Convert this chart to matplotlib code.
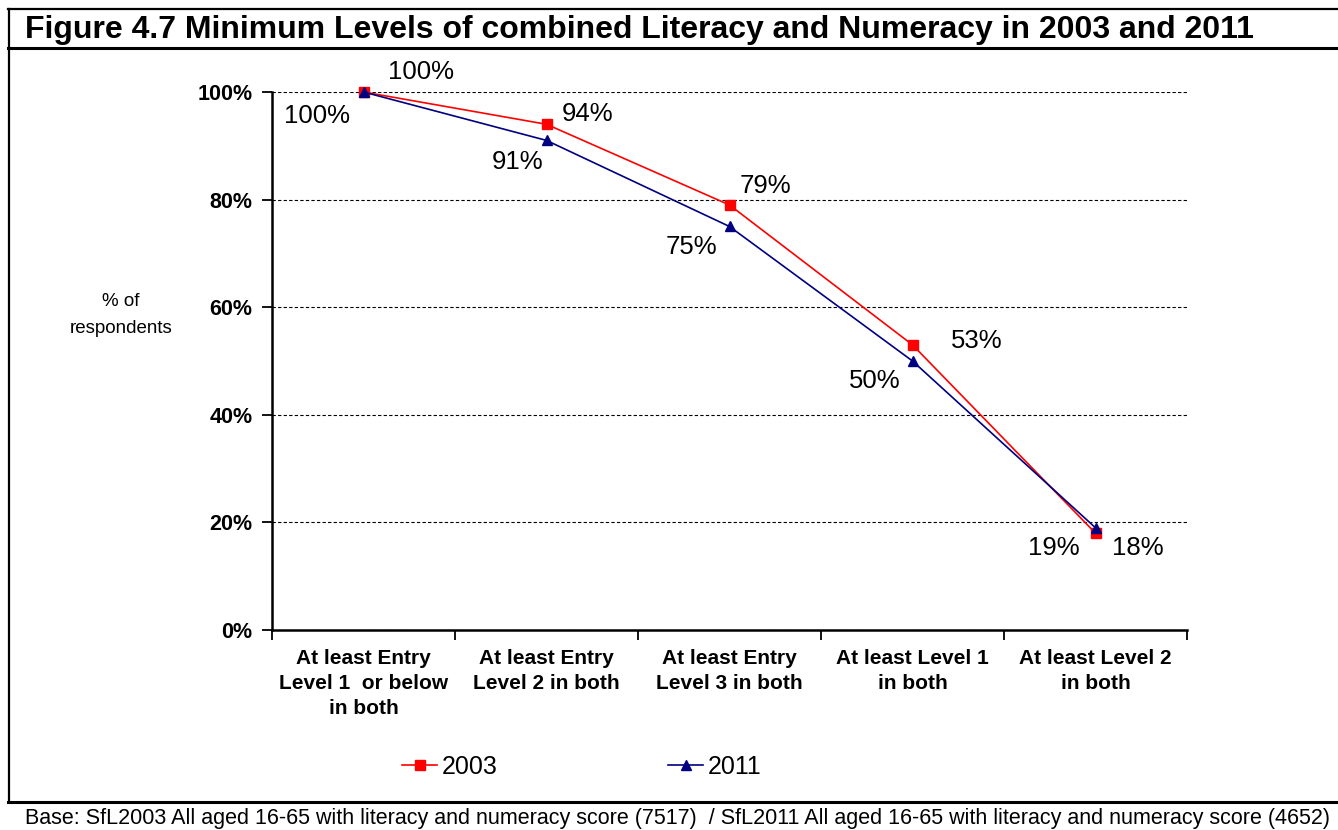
import matplotlib
matplotlib.use('Agg')
import matplotlib.pyplot as plt
from matplotlib.lines import Line2D

plt.rcParams['font.family'] = ['Liberation Sans', 'DejaVu Sans']

# ---------------- data ----------------
categories = [
    "At least Entry\nLevel 1  or below\nin both",
    "At least Entry\nLevel 2 in both",
    "At least Entry\nLevel 3 in both",
    "At least Level 1\nin both",
    "At least Level 2\nin both",
]
values_2003 = [100, 94, 79, 53, 18]
values_2011 = [100, 91, 75, 50, 19]
series_names = ["2003", "2011"]
y_ticks = [0, 20, 40, 60, 80, 100]
title = "Figure 4.7 Minimum Levels of combined Literacy and Numeracy in 2003 and 2011"
footer = ("Base: SfL2003 All aged 16-65 with literacy and numeracy score (7517)  / "
          "SfL2011 All aged 16-65 with literacy and numeracy score (4652)")
y_label = "% of\nrespondents"

# label offsets (pixels, +y = up) - layout only
off_2003 = [(58, 20), (41, 10), (36, 19), (64, 4), (42, -15)]
off_2011 = [(-46, -24), (-29, -22), (-38, -20), (-38, -20), (-42, -20)]

W, H = 1338, 830
fig = plt.figure(figsize=(W / 100, H / 100), dpi=100)
fig.patch.set_facecolor('white')

ax = fig.add_axes([272 / W, 1 - 630 / H, (1187 - 272) / W, (630 - 92) / H])
xs = list(range(len(categories)))
l1, = ax.plot(xs, values_2003, color='#FF0000', marker='s', ms=7.5, lw=1.2,
              clip_on=False, zorder=4, label=series_names[0])
l2, = ax.plot(xs, values_2011, color='#000080', marker='^', ms=7.5, lw=1.2,
              clip_on=False, zorder=5, label=series_names[1])

for i, v in enumerate(values_2003):
    ax.annotate(f"{v}%", (xs[i], v), xytext=off_2003[i], textcoords='offset pixels',
                ha='center', va='center', fontsize=18.5, color='black')
for i, v in enumerate(values_2011):
    ax.annotate(f"{v}%", (xs[i], v), xytext=off_2011[i], textcoords='offset pixels',
                ha='center', va='center', fontsize=18.5, color='black')

ax.set_xlim(-0.5, len(categories) - 0.5)
ax.set_ylim(0, 100)
ax.set_yticks(y_ticks)
ax.set_yticklabels([f"{v}%" for v in y_ticks], fontsize=15.5, fontweight='bold')
ax.set_xticks([i - 0.5 for i in range(len(categories) + 1)])
ax.set_xticklabels([])
ax.set_xticks(xs, minor=True)
ax.set_xticklabels(categories, minor=True, fontsize=15, fontweight='bold',
                   linespacing=1.38)
ax.tick_params(axis='x', which='major', length=7, width=1.3, direction='out')
ax.tick_params(axis='x', which='minor', length=0, pad=14)
ax.tick_params(axis='y', length=7, width=1.3, direction='out', pad=7)

ax.yaxis.grid(True, linestyle=(0, (3, 2)), color='black', lw=0.8)
ax.set_axisbelow(True)
for s in ['top', 'right']:
    ax.spines[s].set_visible(False)
for s in ['left', 'bottom']:
    ax.spines[s].set_linewidth(1.8)

fig.text(121 / W, 1 - 315 / H, y_label, ha='center', va='center', fontsize=13.5,
         linespacing=1.7)

fig.legend(handles=[l1, l2], loc='center', bbox_to_anchor=(582 / W, 1 - 767 / H),
           ncol=2, frameon=False, fontsize=18, handlelength=1.4,
           handletextpad=0.2, columnspacing=6.8, markerscale=0.9)

# frame
fig.add_artist(Line2D([8.5 / W, 8.5 / W], [1 - 9 / H, 1 - 802 / H],
                      transform=fig.transFigure, color='black', lw=1.6))
fig.add_artist(Line2D([8 / W, 1], [1 - 9.5 / H] * 2,
                      transform=fig.transFigure, color='black', lw=1.6))
fig.add_artist(Line2D([8 / W, 1], [1 - 48 / H] * 2,
                      transform=fig.transFigure, color='black', lw=2.2))
fig.add_artist(Line2D([8 / W, 1], [1 - 802 / H] * 2,
                      transform=fig.transFigure, color='black', lw=2.2))

fig.text(25 / W, 1 - 30 / H, title, fontsize=23, fontweight='bold',
         ha='left', va='center')
fig.text(25 / W, 1 - 818 / H, footer, fontsize=15.5, ha='left', va='center')

fig.savefig('out.png', dpi=100)
